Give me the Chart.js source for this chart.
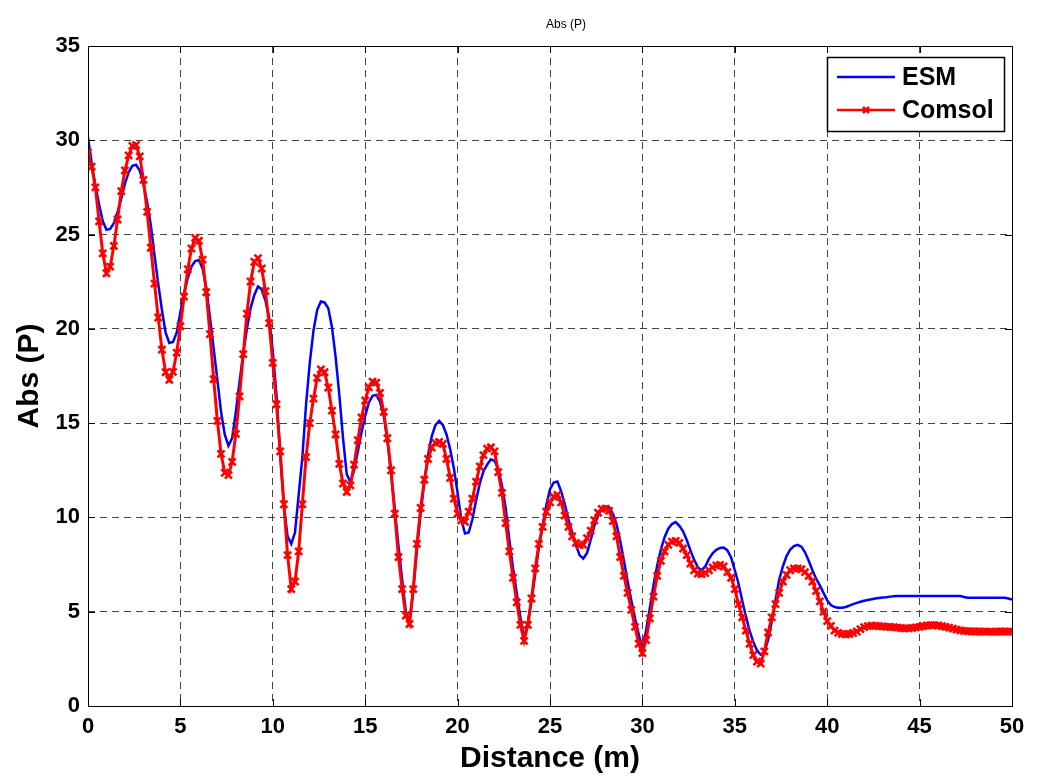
<!DOCTYPE html>
<html>
<head>
<meta charset="utf-8">
<title>Abs (P)</title>
<script src="https://cdn.jsdelivr.net/npm/chart.js@4.4.1/dist/chart.umd.min.js"></script>
<style>
  html, body { margin: 0; padding: 0; background: #fff; }
  #wrap { width: 1037px; height: 783px; position: relative; }
</style>
</head>
<body>
<div id="wrap"><canvas id="absp"></canvas></div>
<script>
// sampled every 0.2 m, from 0 to 50 m
var STEP = 0.2;

var esm = [
    30.14, 28.8, 27.6, 26.6, 25.7, 25.25, 25.3, 25.6, 26.2, 26.9,
    27.7, 28.3, 28.65, 28.7, 28.4, 27.7, 26.7, 25.5, 23.9, 22.4,
    21.0, 19.8, 19.25, 19.3, 19.8, 20.9, 21.9, 22.7, 23.3, 23.6,
    23.65, 23.2, 22.2, 20.6, 18.96, 17.3, 15.6, 14.4, 13.8, 14.2,
    15.6, 17.2, 18.7, 20.0, 21.1, 21.8, 22.25, 22.1, 21.5, 20.6,
    18.8, 16.5, 13.3, 10.6, 9.0, 8.6, 9.2, 11.2, 13.2, 16.0,
    18.2, 19.9, 21.0, 21.45, 21.4, 21.1, 20.1, 18.5, 16.5, 14.2,
    12.3, 11.87, 12.5, 13.5, 14.5, 15.4, 16.1, 16.45, 16.5, 16.15,
    15.4, 14.1, 12.3, 10.45, 8.5, 6.7, 5.0, 4.5, 6.1, 8.3,
    10.2, 11.9, 13.3, 14.3, 14.9, 15.12, 14.9, 14.4, 13.6, 12.6,
    11.3, 9.9, 9.15, 9.2, 9.9, 10.9, 11.8, 12.45, 12.8, 13.08,
    13.0, 12.58, 11.7, 10.5, 8.8, 7.3, 6.0, 4.7, 3.6, 4.4,
    5.6, 7.0, 8.4, 9.6, 10.65, 11.5, 11.85, 11.9, 11.4, 10.7,
    9.9, 9.2, 8.55, 8.0, 7.82, 8.1, 8.8, 9.55, 10.1, 10.47,
    10.58, 10.55, 10.2, 9.65, 8.75, 7.7, 6.6, 5.6, 4.65, 3.8,
    3.0, 4.0, 5.18, 6.4, 7.45, 8.3, 8.95, 9.4, 9.65, 9.75,
    9.55, 9.26, 8.8, 8.25, 7.75, 7.35, 7.2, 7.4, 7.8, 8.1,
    8.28, 8.38, 8.4, 8.25, 7.88, 7.2, 6.5, 5.6, 4.75, 4.0,
    3.4, 2.95, 2.72, 2.85, 3.5, 4.5, 5.6, 6.7, 7.4, 7.95,
    8.3, 8.48, 8.55, 8.45, 8.15, 7.7, 7.2, 6.75, 6.4, 6.0,
    5.6, 5.35, 5.25, 5.21, 5.21, 5.25, 5.32, 5.4, 5.47, 5.53,
    5.58, 5.62, 5.66, 5.7, 5.73, 5.75, 5.77, 5.8, 5.82, 5.83,
    5.83, 5.83, 5.83, 5.83, 5.83, 5.83, 5.83, 5.83, 5.83, 5.83,
    5.83, 5.83, 5.83, 5.83, 5.83, 5.83, 5.83, 5.78, 5.74, 5.74,
    5.74, 5.74, 5.74, 5.74, 5.74, 5.74, 5.74, 5.74, 5.74, 5.7,
    5.65
];

var comsol = [
    29.35, 28.6, 27.5, 25.7, 24.0, 22.95, 23.3, 24.4, 25.8, 27.3,
    28.4, 29.2, 29.7, 29.75, 29.15, 27.9, 26.2, 24.3, 22.4, 20.6,
    18.9, 17.7, 17.3, 17.72, 18.74, 20.14, 21.71, 23.16, 24.26, 24.82,
    24.67, 23.67, 21.94, 19.72, 17.33, 15.12, 13.37, 12.37, 12.24, 12.95,
    14.43, 16.42, 18.66, 20.8, 22.51, 23.56, 23.75, 23.2, 22.0, 20.3,
    18.2, 16.0, 13.5, 10.7, 8.0, 6.2, 6.6, 8.2, 10.7, 13.2,
    15.0, 16.3, 17.4, 17.85, 17.7, 16.89, 15.66, 14.4, 12.84, 11.8,
    11.35, 11.7, 12.8, 14.1, 15.3, 16.2, 16.9, 17.2, 17.15, 16.6,
    15.6, 14.2, 12.5, 10.2, 7.9, 6.2, 4.8, 4.35, 6.2, 8.6,
    10.5, 12.0, 13.1, 13.7, 13.95, 14.0, 13.9, 13.1, 12.1, 11.0,
    10.2, 9.85, 9.77, 10.3, 11.0, 11.9, 12.7, 13.3, 13.65, 13.72,
    13.5, 12.4, 11.3, 9.7, 8.2, 6.8, 5.5, 4.3, 3.45, 4.3,
    5.7, 7.3, 8.6, 9.5, 10.3, 10.8, 11.1, 11.2, 10.8, 10.1,
    9.5, 9.0, 8.65, 8.53, 8.55, 8.9, 9.3, 9.85, 10.25, 10.45,
    10.47, 10.35, 9.8, 9.0, 7.9, 6.9, 6.0, 5.1, 4.2, 3.3,
    2.8, 3.5, 4.65, 5.8, 6.9, 7.7, 8.2, 8.55, 8.72, 8.76,
    8.65, 8.35, 8.0, 7.55, 7.2, 7.02, 6.99, 7.05, 7.2, 7.35,
    7.45, 7.48, 7.4, 7.1, 6.8, 6.2, 5.4, 4.7, 4.0, 3.3,
    2.7, 2.35, 2.25, 2.9, 3.9, 4.7, 5.4, 6.0, 6.6, 6.95,
    7.2, 7.3, 7.3, 7.25, 7.1, 6.9, 6.6, 6.1, 5.55, 5.0,
    4.5, 4.25, 4.0, 3.88, 3.82, 3.8, 3.82, 3.87, 3.95, 4.08,
    4.18, 4.24, 4.26, 4.25, 4.24, 4.22, 4.2, 4.2, 4.18, 4.16,
    4.13, 4.12, 4.12, 4.14, 4.17, 4.2, 4.24, 4.27, 4.29, 4.29,
    4.27, 4.24, 4.2, 4.16, 4.1, 4.05, 4.01, 3.98, 3.97, 3.96,
    3.95, 3.95, 3.94, 3.94, 3.94, 3.93, 3.94, 3.95, 3.95, 3.94,
    3.94
];

var xTicks = [0, 5, 10, 15, 20, 25, 30, 35, 40, 45, 50];
var yTicks = [0, 5, 10, 15, 20, 25, 30, 35];
var seriesNames = ["ESM", "Comsol"];

function pts(arr){
    return arr.map(function(v, i){ return { x: Math.round(i * STEP * 10) / 10, y: v }; });
}

var FONT = "'Liberation Sans', Arial, sans-serif";

// title, axes box with inward ticks, legend
var decor = {
    id: 'decor',
    afterDraw: function(chart){
        var c = chart.ctx, a = chart.chartArea;
        var sx = chart.scales.x, sy = chart.scales.y;
        c.save();

        c.fillStyle = '#000';
        c.font = '12px ' + FONT;
        c.textAlign = 'center';
        c.textBaseline = 'middle';
        c.fillText('Abs (P)', 566, 25);

        c.strokeStyle = '#000';
        c.lineWidth = 1;
        c.strokeRect(Math.round(a.left) + 0.5, Math.round(a.top) + 0.5,
                     Math.round(a.right - a.left), Math.round(a.bottom - a.top));
        var tl = 7;
        c.beginPath();
        xTicks.forEach(function(v){
            var px = Math.round(sx.getPixelForValue(v)) + 0.5;
            c.moveTo(px, a.bottom); c.lineTo(px, a.bottom - tl);
            c.moveTo(px, a.top); c.lineTo(px, a.top + tl);
        });
        yTicks.forEach(function(v){
            var py = Math.round(sy.getPixelForValue(v)) + 0.5;
            c.moveTo(a.left, py); c.lineTo(a.left + tl, py);
            c.moveTo(a.right, py); c.lineTo(a.right - tl, py);
        });
        c.stroke();

        // legend
        var lx = 827, ly = 57, lw = 177, lh = 74;
        c.fillStyle = '#fff';
        c.fillRect(lx, ly, lw, lh);
        c.lineWidth = 1.5;
        c.strokeRect(lx + 0.5, ly + 0.5, lw, lh);
        var rows = [77, 110];
        var cols = ['#0000ff', '#ff0000'];
        rows.forEach(function(y, i){
            c.strokeStyle = cols[i];
            c.lineWidth = 2.5;
            c.beginPath();
            c.moveTo(837, y); c.lineTo(895, y);
            c.stroke();
            c.fillStyle = '#000';
            c.font = 'bold 25px ' + FONT;
            c.textAlign = 'left';
            c.fillText(seriesNames[i], 902, y + 1);
        });
        c.strokeStyle = '#ff0000';
        c.lineWidth = 2.5;
        c.beginPath();
        c.moveTo(863, 107); c.lineTo(869, 113);
        c.moveTo(869, 107); c.lineTo(863, 113);
        c.stroke();

        c.restore();
    }
};

var ctx = document.getElementById("absp");
ctx.width = 1037;
ctx.height = 783;

var chart = new Chart(ctx, {
    type: 'line',
    data: {
        datasets: [{
            label: seriesNames[0],
            data: pts(esm),
            borderColor: '#0000ff',
            borderWidth: 2.5,
            pointRadius: 0,
            fill: false,
            order: 2
        }, {
            label: seriesNames[1],
            data: pts(comsol),
            borderColor: '#ff0000',
            borderWidth: 3,
            pointStyle: 'crossRot',
            pointRadius: 5,
            pointBorderWidth: 2.5,
            pointBorderColor: '#ff0000',
            pointBackgroundColor: '#ff0000',
            fill: false,
            order: 1
        }]
    },
    options: {
        responsive: false,
        animation: false,
        devicePixelRatio: 1,
        layout: { padding: { top: 46, right: 25, left: 0, bottom: 0 } },
        plugins: {
            legend: { display: false },
            tooltip: { enabled: false },
            title: { display: false }
        },
        scales: {
            x: {
                type: 'linear',
                min: 0, max: 50,
                afterFit: function(s){ s.height = 77; },
                afterBuildTicks: function(s){ s.ticks = xTicks.map(function(v){ return { value: v }; }); },
                ticks: { color: '#000', padding: 8, maxRotation: 0, font: { family: FONT, size: 22, weight: 'bold' } },
                grid: { color: '#444', lineWidth: 1, drawTicks: false },
                border: { display: false, dash: [7, 5] },
                title: { display: true, text: 'Distance (m)', color: '#000', padding: { top: 0, bottom: 6 },
                         font: { family: FONT, size: 30, weight: 'bold' } }
            },
            y: {
                min: 0, max: 35,
                afterFit: function(s){ s.width = 88; },
                afterBuildTicks: function(s){ s.ticks = yTicks.map(function(v){ return { value: v }; }); },
                ticks: { color: '#000', padding: 8, font: { family: FONT, size: 22, weight: 'bold' } },
                grid: { color: '#444', lineWidth: 1, drawTicks: false },
                border: { display: false, dash: [7, 5] },
                title: { display: true, text: 'Abs (P)', color: '#000', padding: { top: 12, bottom: 0 },
                         font: { family: FONT, size: 30, weight: 'bold' } }
            }
        }
    },
    plugins: [decor]
});
</script>
</body>
</html>
